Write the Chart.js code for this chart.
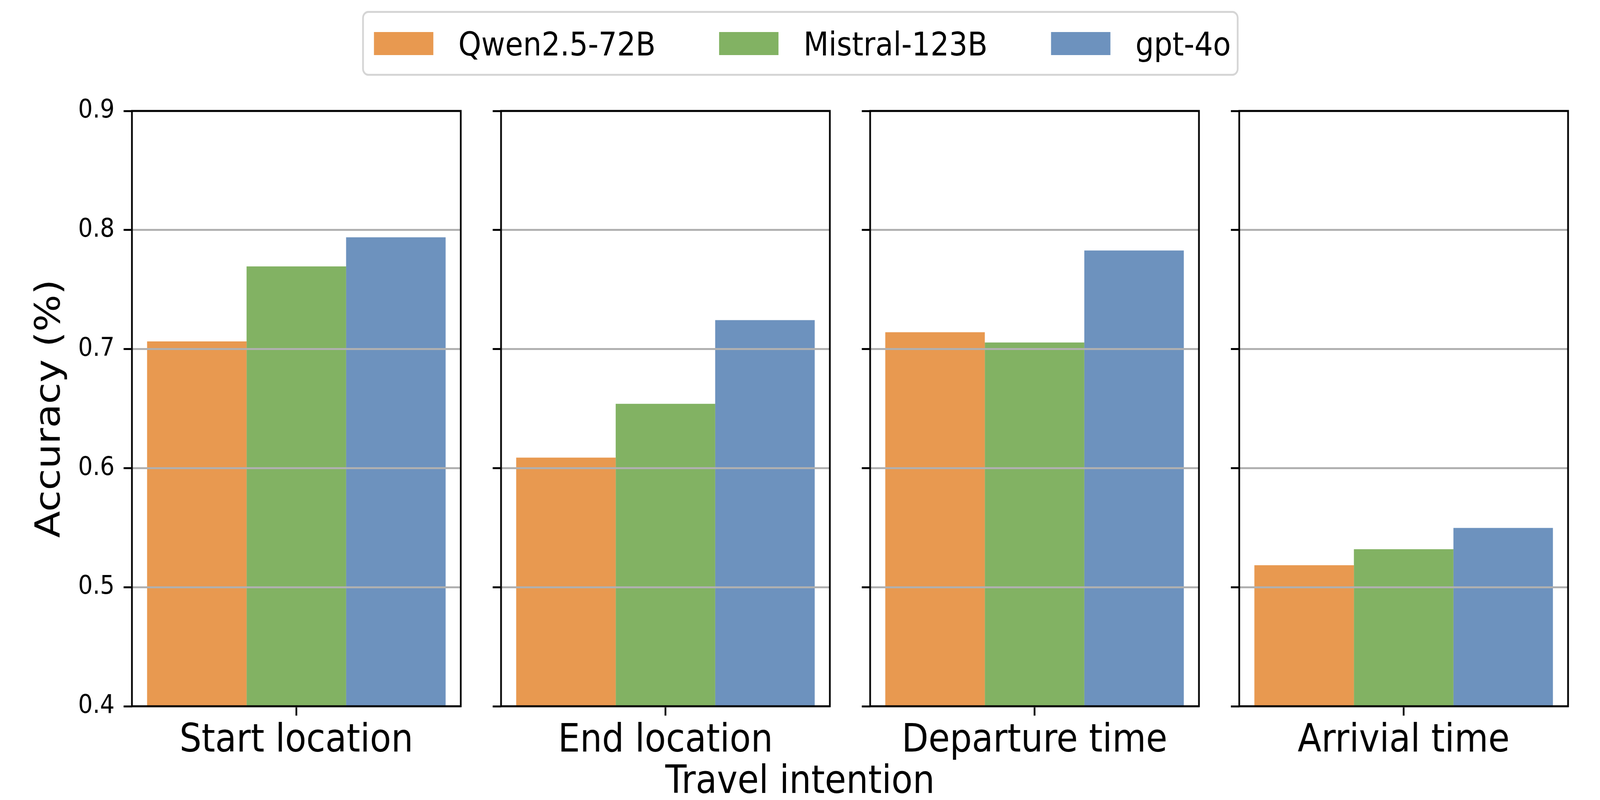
<!DOCTYPE html>
<html>
<head>
<meta charset="utf-8">
<script src="https://cdn.jsdelivr.net/npm/chart.js@4.4.1/dist/chart.umd.min.js"></script>
<style>
    html, body { margin: 0; padding: 0; background: #fff; overflow: hidden; }
    body { font-family: 'DejaVu Sans', sans-serif; color: #000; }
    #stage { width: 4608px; height: 2048px; position: absolute; left: 0; top: 0; transform-origin: 0 0; }
    canvas { position: absolute; top: 0; }
    #legend { position: absolute; left: 1043px; top: 28px; width: 2524px; height: 166px; box-sizing: border-box;
              border: 5px solid #d5d5d5; border-radius: 18px; background: #fff; }
    .patch { position: absolute; top: 49px; width: 171px; height: 59px; }
    .label { position: absolute; top: 38px; font-size: 84px; line-height: 84px; white-space: nowrap; }
    #xtitle { position: absolute; left: 0; width: 4608px; top: 1946px; text-align: center;
              font-size: 100px; line-height: 100px; white-space: nowrap; }
</style>
</head>
<body>
<div id="stage">
    <div id="legend"></div>
    <div id="xtitle">Travel intention</div>
</div>
<script>
// data
const categories = ['Start location', 'End location', 'Departure time', 'Arrivial time'];
const seriesNames = ['Qwen2.5-72B', 'Mistral-123B', 'gpt-4o'];
const qwenValues = [0.7064, 0.6088, 0.7141, 0.5184];
const mistralValues = [0.7694, 0.6540, 0.7055, 0.5319];
const gptValues = [0.7939, 0.7243, 0.7828, 0.5498];
const yTicks = [0.4, 0.5, 0.6, 0.7, 0.8, 0.9];

const colors = ['#e89950', '#82b263', '#6d92be'];
const allSeries = [qwenValues, mistralValues, gptValues];

// panel geometry in a 4608x2048 layout (px)
const panelLefts = [380, 1443, 2506, 3569];
const panelWidth = 947;
const plotTop = 284;
const xAxisHeight = 240;

// the window may be smaller than 4608x2048, so squeeze the whole stage to fit
const stage = document.getElementById('stage');
const sx = window.innerWidth / 4608, sy = window.innerHeight / 2048;
stage.style.transform = `scale(${sx}, ${sy})`;

Chart.defaults.font.family = "'DejaVu Sans', sans-serif";
Chart.defaults.color = '#000';

const framePlugin = {
    id: 'frame',
    afterDraw(chart) {
        const {ctx, chartArea} = chart;
        ctx.save();
        ctx.strokeStyle = '#000';
        ctx.lineWidth = 5;
        ctx.strokeRect(chartArea.left, chartArea.top, chartArea.right - chartArea.left, chartArea.bottom - chartArea.top);
        ctx.restore();
    }
};

// legend
const legend = document.getElementById('legend');
const patchLefts = [29, 1023, 1979];
seriesNames.forEach((name, i) => {
    const patch = document.createElement('div');
    patch.className = 'patch';
    patch.style.left = patchLefts[i] + 'px';
    patch.style.background = colors[i];
    legend.appendChild(patch);
    const label = document.createElement('div');
    label.className = 'label';
    label.style.left = (patchLefts[i] + 243) + 'px';
    label.textContent = name;
    legend.appendChild(label);
});

categories.forEach((cat, i) => {
    const first = i === 0;
    const yWidth = first ? 380 : 60;
    const canvas = document.createElement('canvas');
    canvas.width = yWidth + panelWidth + 6;
    canvas.height = 2048;
    canvas.style.left = (panelLefts[i] - yWidth) + 'px';
    stage.appendChild(canvas);

    new Chart(canvas.getContext('2d'), {
        type: 'bar',
        data: {
            labels: [cat],
            datasets: seriesNames.map((name, s) => ({
                label: name,
                data: [allSeries[s][i]],
                backgroundColor: colors[s],
                borderWidth: 0,
                categoryPercentage: 0.908,
                barPercentage: 1.0
            }))
        },
        options: {
            responsive: false,
            animation: false,
            devicePixelRatio: 1,
            layout: { padding: { top: plotTop, right: 6, bottom: 0, left: 0 } },
            plugins: {
                legend: { display: false },
                tooltip: { enabled: false }
            },
            scales: {
                x: {
                    offset: true,
                    grid: {
                        offset: false,
                        drawOnChartArea: false,
                        drawTicks: true,
                        tickLength: 24,
                        tickColor: '#000',
                        tickWidth: 5
                    },
                    border: { display: false },
                    ticks: {
                        font: { size: 100 },
                        color: '#000',
                        padding: 6,
                        maxRotation: 0,
                        autoSkip: false
                    },
                    afterFit: (scale) => { scale.height = xAxisHeight; }
                },
                y: {
                    min: yTicks[0],
                    max: yTicks[yTicks.length - 1],
                    afterBuildTicks: (scale) => { scale.ticks = yTicks.map(v => ({ value: v })); },
                    ticks: {
                        display: first,
                        font: { size: 66 },
                        color: '#000',
                        padding: 26,
                        callback: (v) => Number(v).toFixed(1)
                    },
                    grid: {
                        color: '#b0b0b0',
                        lineWidth: 5,
                        tickColor: '#000',
                        tickWidth: 5,
                        tickLength: 24,
                        z: 1
                    },
                    border: { display: false },
                    title: {
                        display: first,
                        text: 'Accuracy (%)',
                        font: { size: 100, lineHeight: 1 },
                        color: '#000',
                        padding: { top: 96, bottom: 0 }
                    },
                    afterFit: (scale) => { scale.width = yWidth; }
                }
            }
        },
        plugins: [framePlugin]
    });
});
</script>
</body>
</html>
